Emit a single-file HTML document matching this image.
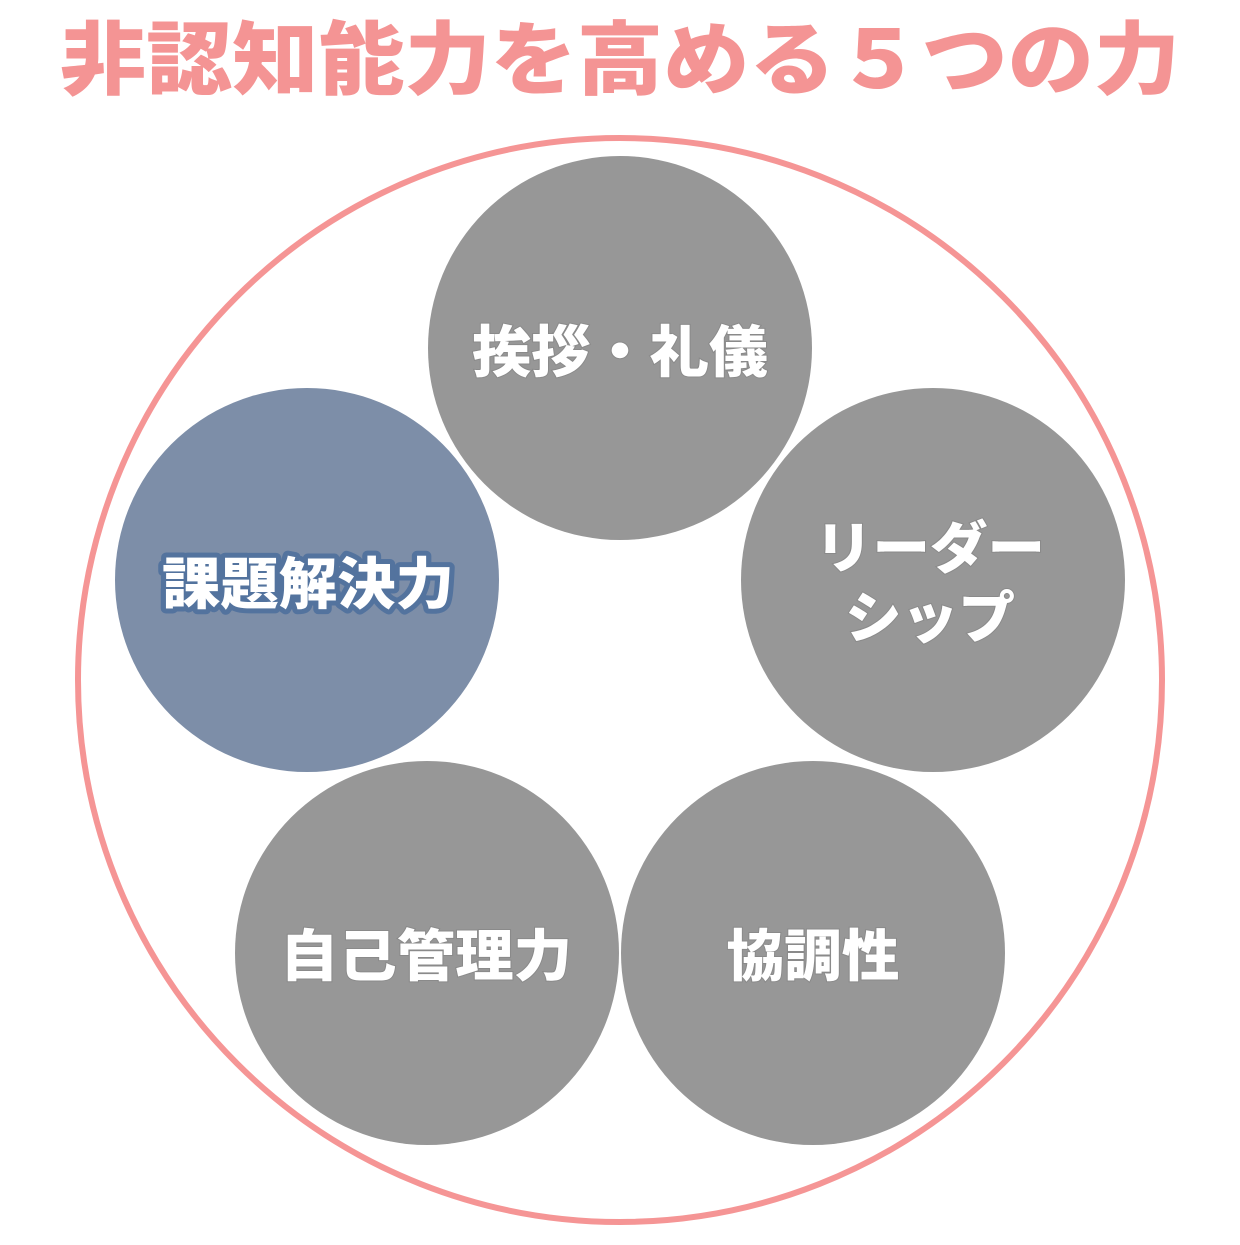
<!DOCTYPE html>
<html><head><meta charset="utf-8"><style>
html,body{margin:0;padding:0;background:#fff;}
svg text{font-family:"Liberation Sans","Noto Sans CJK JP",sans-serif;font-weight:900;}
</style></head><body>
<svg width="1240" height="1240" viewBox="0 0 1240 1240" xmlns="http://www.w3.org/2000/svg">
<text x="620" y="88" text-anchor="middle" font-size="80" fill="#f49494" textLength="1120" lengthAdjust="spacingAndGlyphs">非認知能力を高める５つの力</text>
<circle cx="620" cy="680" r="542" fill="none" stroke="#f59595" stroke-width="6"/>
<g fill="#979797">
<circle cx="620" cy="348" r="192"/>
<circle cx="933" cy="580" r="192"/>
<circle cx="427" cy="953" r="192"/>
<circle cx="813" cy="953" r="192"/>
</g>
<circle cx="307" cy="580" r="192" fill="#7d8ea8"/>
<g font-size="56" fill="#fff" text-anchor="middle" stroke="#8a8a8a" stroke-width="2" paint-order="stroke">
<text x="620" y="372" textLength="296" lengthAdjust="spacingAndGlyphs">挨拶・礼儀</text>
<text x="930" y="568" textLength="230" lengthAdjust="spacingAndGlyphs">リーダー</text>
<text x="930" y="638" textLength="170" lengthAdjust="spacingAndGlyphs">シップ</text>
<text x="426" y="976" textLength="292" lengthAdjust="spacingAndGlyphs">自己管理力</text>
<text x="813" y="976" textLength="173" lengthAdjust="spacingAndGlyphs">協調性</text>
</g>
<text x="308" y="604" font-size="56" fill="#fff" text-anchor="middle" stroke="#53739e" stroke-width="10" paint-order="stroke" stroke-linejoin="round" textLength="292" lengthAdjust="spacingAndGlyphs">課題解決力</text>
</svg>
</body></html>
